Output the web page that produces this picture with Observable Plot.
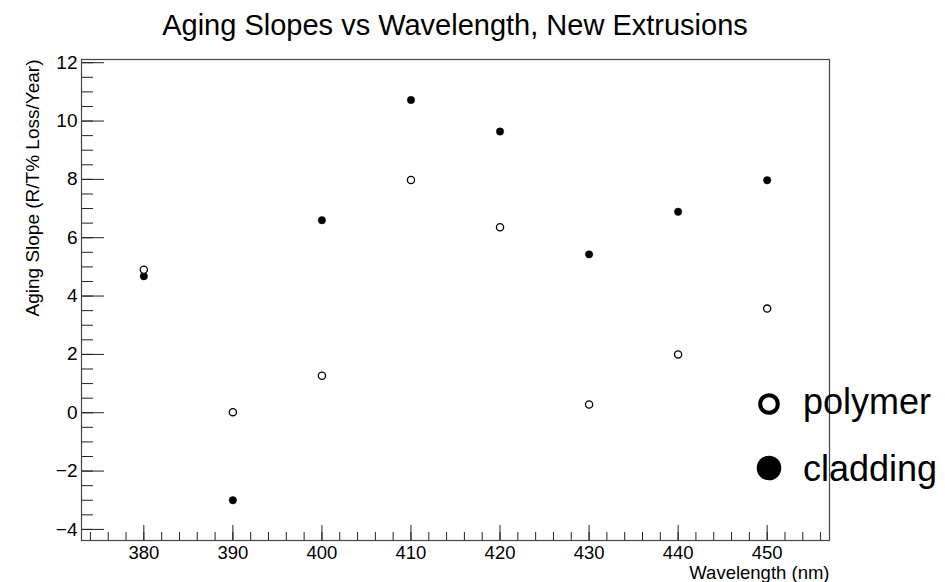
<!DOCTYPE html>
<html>
<head>
<meta charset="utf-8">
<script src="https://cdn.jsdelivr.net/npm/d3@7"></script>
<script src="https://cdn.jsdelivr.net/npm/@observablehq/plot@0.6"></script>
<style>
  html, body { margin: 0; padding: 0; background: #fff; }
  #wrap { position: relative; width: 945px; height: 582px; font-family: "Liberation Sans", Arial, Helvetica, sans-serif; color: #000; }
  #title { width: 910px; height: 50px; line-height: 50px; text-align: center; font-size: 29px; white-space: nowrap; }
  #legend { position: absolute; left: 0; top: 0; width: 945px; height: 582px; pointer-events: none; }
  .lg { position: absolute; font-size: 36px; line-height: 36px; white-space: nowrap; }
  .lg svg { position: absolute; overflow: visible; }
</style>
</head>
<body>
<div id="wrap">
  <div id="title">Aging Slopes vs Wavelength, New Extrusions</div>
  <div id="chart"></div>
  <div id="legend"></div>
</div>
<script>
// ---- data ----
const wavelengths = [380, 390, 400, 410, 420, 430, 440, 450];
const polymer     = [4.90, 0.02, 1.27, 7.98, 6.36, 0.28, 2.00, 3.57];
const cladding    = [4.68, -3.00, 6.60, 10.72, 9.64, 5.43, 6.89, 7.97];
const seriesNames = ["polymer", "cladding"];
const xMajorTicks = [380, 390, 400, 410, 420, 430, 440, 450];
const yMajorTicks = [-4, -2, 0, 2, 4, 6, 8, 10, 12];
const xTitle = "Wavelength (nm)";
const yTitle = "Aging Slope (R/T% Loss/Year)";

const xMinorTicks = d3.range(374, 457, 2);
const yMinorTicks = d3.range(-4, 12.01, 0.5);

const polyRows = wavelengths.map((w, i) => ({w, v: polymer[i]}));
const cladRows = wavelengths.map((w, i) => ({w, v: cladding[i]}));

const fmt = d => d < 0 ? "\u2212" + Math.abs(d) : String(d);
const font = "Liberation Sans, Arial, Helvetica, sans-serif";

const chart = Plot.plot({
  width: 945,
  height: 532,
  marginTop: 9,
  marginBottom: 42,
  marginLeft: 81,
  marginRight: 116,
  style: {fontFamily: font, background: "white", color: "black", overflow: "visible"},
  x: {domain: [373, 457]},
  y: {domain: [-4.38, 12.11]},
  marks: [
    Plot.axisX(xMinorTicks, {tickSize: -8, text: null, label: null, stroke: "#222"}),
    Plot.axisX(xMajorTicks, {tickSize: -15, text: null, label: null, stroke: "#222"}),
    Plot.axisX(xMajorTicks, {tickSize: 0, tickPadding: 5, fontSize: 18.5, label: null, tickFormat: fmt}),
    Plot.axisY(yMinorTicks, {tickSize: -12, text: null, label: null, stroke: "#222"}),
    Plot.axisY(yMajorTicks, {tickSize: -23, text: null, label: null, stroke: "#222"}),
    Plot.axisY(yMajorTicks, {tickSize: 0, tickPadding: 4, fontSize: 19, label: null, tickFormat: fmt}),
    Plot.frame({stroke: "#444", strokeWidth: 1.2}),
    Plot.text([xTitle], {frameAnchor: "bottom-right", textAnchor: "end", lineAnchor: "bottom", dy: 38.5, fontSize: 18.5}),
    Plot.text([yTitle], {frameAnchor: "top-left", textAnchor: "end", lineAnchor: "bottom", rotate: -90, dx: -43, dy: 0, fontSize: 19}),
    Plot.dot(cladRows, {x: "w", y: "v", r: 3.7, fill: "black", stroke: "black", strokeWidth: 0.5}),
    Plot.dot(polyRows, {x: "w", y: "v", r: 3.6, fill: "white", stroke: "black", strokeWidth: 1.3})
  ]
});
document.getElementById("chart").appendChild(chart);

// ---- legend (HTML overlay) ----
const legend = document.getElementById("legend");
const legendItems = [
  {name: seriesNames[0], top: 380, open: true},
  {name: seriesNames[1], top: 447, open: false}
];
legendItems.forEach(it => {
  const row = document.createElement("div");
  row.className = "lg";
  row.style.left = "756px";
  row.style.top = it.top + "px";
  row.style.width = "190px";
  row.style.height = "40px";
  const svg = document.createElementNS("http://www.w3.org/2000/svg", "svg");
  svg.setAttribute("width", "26");
  svg.setAttribute("height", "26");
  svg.style.left = "0px";
  svg.style.top = it.open ? "11px" : "8px";
  const c = document.createElementNS("http://www.w3.org/2000/svg", "circle");
  c.setAttribute("cx", "13");
  c.setAttribute("cy", "13");
  if (it.open) {
    c.setAttribute("r", "8.8");
    c.setAttribute("fill", "none");
    c.setAttribute("stroke", "black");
    c.setAttribute("stroke-width", "4");
  } else {
    c.setAttribute("r", "12.3");
    c.setAttribute("fill", "black");
  }
  svg.appendChild(c);
  row.appendChild(svg);
  const span = document.createElement("span");
  span.textContent = it.name;
  span.style.position = "absolute";
  span.style.left = "47px";
  span.style.top = "4px";
  row.appendChild(span);
  legend.appendChild(row);
});
</script>
</body>
</html>
